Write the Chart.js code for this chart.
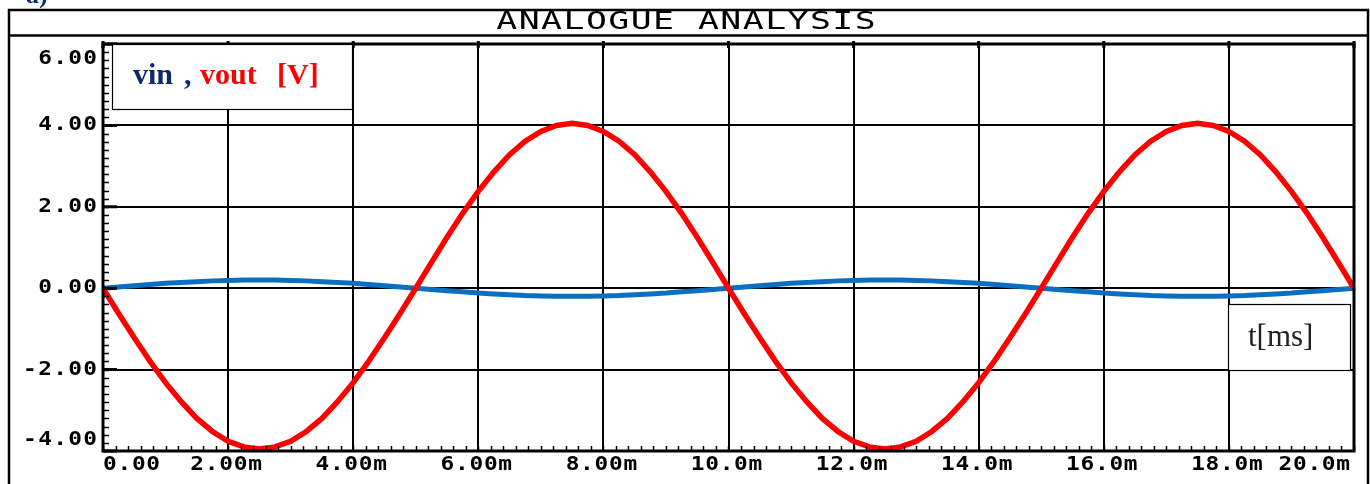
<!DOCTYPE html>
<html>
<head>
<meta charset="utf-8">
<script src="https://cdn.jsdelivr.net/npm/chart.js@4"></script>
<style>
  body { margin: 0; background: #fff; }
  #wrap { width: 1370px; height: 484px; }
</style>
</head>
<body>
<div id="wrap"><canvas id="chart" width="1370" height="484"></canvas></div>
<script>
// time axis in ms
const times = [
  0, 0.25, 0.5, 0.75, 1, 1.25, 1.5, 1.75, 2, 2.25, 2.5, 2.75, 3, 3.25, 3.5, 3.75, 4, 4.25, 4.5, 4.75,
  5, 5.25, 5.5, 5.75, 6, 6.25, 6.5, 6.75, 7, 7.25, 7.5, 7.75, 8, 8.25, 8.5, 8.75, 9, 9.25, 9.5, 9.75,
  10, 10.25, 10.5, 10.75, 11, 11.25, 11.5, 11.75, 12, 12.25, 12.5, 12.75, 13, 13.25, 13.5, 13.75, 14, 14.25, 14.5, 14.75,
  15, 15.25, 15.5, 15.75, 16, 16.25, 16.5, 16.75, 17, 17.25, 17.5, 17.75, 18, 18.25, 18.5, 18.75, 19, 19.25, 19.5, 19.75,
  20
];

// vout [V]
const vout = [
  0, -0.62, -1.22, -1.79, -2.32, -2.79, -3.20, -3.52, -3.76, -3.90, -3.95, -3.90, -3.76, -3.52, -3.20, -2.79, -2.32, -1.79, -1.22, -0.62,
  0, 0.63, 1.25, 1.84, 2.38, 2.86, 3.28, 3.61, 3.85, 4.00, 4.05, 4.00, 3.85, 3.61, 3.28, 2.86, 2.38, 1.84, 1.25, 0.63,
  0, -0.62, -1.22, -1.79, -2.32, -2.79, -3.20, -3.52, -3.76, -3.90, -3.95, -3.90, -3.76, -3.52, -3.20, -2.79, -2.32, -1.79, -1.22, -0.62,
  0, 0.63, 1.25, 1.84, 2.38, 2.86, 3.28, 3.61, 3.85, 4.00, 4.05, 4.00, 3.85, 3.61, 3.28, 2.86, 2.38, 1.84, 1.25, 0.63,
  0
];

// vin [V]
const vin = [
  0, 0.03, 0.06, 0.09, 0.12, 0.14, 0.16, 0.18, 0.19, 0.20, 0.20, 0.20, 0.19, 0.18, 0.16, 0.14, 0.12, 0.09, 0.06, 0.03,
  0, -0.03, -0.06, -0.09, -0.12, -0.14, -0.16, -0.18, -0.19, -0.20, -0.20, -0.20, -0.19, -0.18, -0.16, -0.14, -0.12, -0.09, -0.06, -0.03,
  0, 0.03, 0.06, 0.09, 0.12, 0.14, 0.16, 0.18, 0.19, 0.20, 0.20, 0.20, 0.19, 0.18, 0.16, 0.14, 0.12, 0.09, 0.06, 0.03,
  0, -0.03, -0.06, -0.09, -0.12, -0.14, -0.16, -0.18, -0.19, -0.20, -0.20, -0.20, -0.19, -0.18, -0.16, -0.14, -0.12, -0.09, -0.06, -0.03,
  0
];

const xTicks = [0, 2, 4, 6, 8, 10, 12, 14, 16, 18, 20];
const xTickLabels = ['0.00', '2.00m', '4.00m', '6.00m', '8.00m', '10.0m', '12.0m', '14.0m', '16.0m', '18.0m', '20.0m'];
const yTicks = [6, 4, 2, 0, -2, -4];
const yTickLabels = ['6.00', '4.00', '2.00', '0.00', '-2.00', '-4.00'];

const NAVY = '#0b2a6b';
const MONO = '"DejaVu Sans Mono"';

// stretched mono text, like the plotter font
function wideText(ctx, str, x, y, font, sx, gap, align) {
    ctx.save();
    ctx.font = font;
    ctx.letterSpacing = '0px';
    let base = ctx.measureText(str).width;
    let w = (base + gap * (str.length - 1)) * sx;
    let x0 = x;
    if (align == 'center') x0 = x - w / 2;
    if (align == 'right') x0 = x - w;
    ctx.letterSpacing = gap + 'px';
    ctx.textBaseline = 'middle';
    ctx.textAlign = 'left';
    ctx.translate(x0, y);
    ctx.scale(sx, 1);
    ctx.fillText(str, 0, 0);
    ctx.restore();
}

const LABEL_FONT = 'bold 19px ' + MONO;

const plotter = {
    id: 'plotter',
    beforeDraw(chart) {
        let ctx = chart.ctx;
        ctx.save();
        ctx.fillStyle = '#fff';
        ctx.fillRect(0, 0, chart.width, chart.height);

        // "a)" cut off at the top
        ctx.fillStyle = NAVY;
        ctx.font = 'bold 26px "Liberation Serif"';
        ctx.textBaseline = 'alphabetic';
        ctx.fillText('a)', 26, 3);

        // outer frame + title bar
        ctx.strokeStyle = '#000';
        ctx.lineWidth = 2.5;
        ctx.beginPath();
        ctx.moveTo(9, 490);
        ctx.lineTo(9, 10);
        ctx.lineTo(1368, 10);
        ctx.lineTo(1368, 490);
        ctx.moveTo(9, 35.5);
        ctx.lineTo(1368, 35.5);
        ctx.stroke();

        ctx.fillStyle = '#000';
        wideText(ctx, 'ANALOGUE ANALYSIS', 686, 23, '24px ' + MONO, 1.45, 1.0, 'center');
        ctx.restore();
    },
    afterDraw(chart) {
        let ctx = chart.ctx;
        let a = chart.chartArea;
        let xs = chart.scales.x;
        let ys = chart.scales.y;
        ctx.save();

        // plot border
        ctx.strokeStyle = '#000';
        ctx.lineWidth = 3;
        ctx.strokeRect(a.left, a.top, a.right - a.left, a.bottom - a.top);

        // minor ticks
        ctx.lineWidth = 1.5;
        ctx.beginPath();
        for (let v = -4; v <= 6.001; v += 0.2) {
            let y = Math.round(ys.getPixelForValue(v)) + 0.5;
            ctx.moveTo(a.left, y);
            ctx.lineTo(a.left + 6, y);
        }
        for (let t = 0; t <= 20.001; t += 0.2) {
            let x = Math.round(xs.getPixelForValue(t)) + 0.5;
            ctx.moveTo(x, a.bottom);
            ctx.lineTo(x, a.bottom - 5);
        }
        ctx.stroke();

        // major ticks
        ctx.lineWidth = 3;
        ctx.beginPath();
        yTicks.forEach(v => {
            let y = ys.getPixelForValue(v);
            ctx.moveTo(a.left, y);
            ctx.lineTo(a.left + 14, y);
        });
        xTicks.forEach(t => {
            let x = xs.getPixelForValue(t);
            ctx.moveTo(x, a.top - 3);
            ctx.lineTo(x, a.top + 4);
        });
        ctx.stroke();

        // tick labels
        ctx.fillStyle = '#000';
        yTicks.forEach((v, i) => {
            let y = ys.getPixelForValue(v);
            y = Math.min(Math.max(y, a.top + 15), a.bottom - 11);
            wideText(ctx, yTickLabels[i], a.left - 6, y, LABEL_FONT, 1.2, 1.1, 'right');
        });
        xTicks.forEach((t, i) => {
            let x = xs.getPixelForValue(t);
            let align = 'center';
            if (i == 0) { align = 'left'; x = a.left; }
            if (i == xTicks.length - 1) { align = 'right'; x = a.right - 4; }
            wideText(ctx, xTickLabels[i], x - (align == 'center' ? 2 : 0), a.bottom + 14, LABEL_FONT, 1.2, 0.6, align);
        });

        // legend box
        ctx.fillStyle = '#fff';
        ctx.fillRect(112, 44, 240, 65);
        ctx.lineWidth = 1.2;
        ctx.strokeRect(112.5, 44.5, 240, 65);
        ctx.font = 'bold 30px "Liberation Serif"';
        ctx.textBaseline = 'alphabetic';
        ctx.textAlign = 'left';
        ctx.fillStyle = NAVY;
        ctx.fillText('vin', 133, 84);
        ctx.fillText(',', 184, 84);
        ctx.fillStyle = '#ff0000';
        ctx.fillText('vout', 200, 84);
        ctx.fillText('[V]', 277, 84);

        // axis name box
        ctx.fillStyle = '#fff';
        ctx.fillRect(1228, 304, 122, 66);
        ctx.strokeStyle = '#000';
        ctx.strokeRect(1228.5, 304.5, 122, 66);
        ctx.fillStyle = '#222';
        ctx.font = '31px "Liberation Serif"';
        ctx.fillText('t[ms]', 1248, 346);

        ctx.restore();
    }
};

new Chart(document.getElementById('chart'), {
    type: 'line',
    data: {
        datasets: [{
            label: 'vout',
            data: times.map((t, i) => ({x: t, y: vout[i]})),
            borderColor: '#ff0000',
            borderWidth: 5.5,
            pointRadius: 0,
            tension: 0
        }, {
            label: 'vin',
            data: times.map((t, i) => ({x: t, y: vin[i]})),
            borderColor: '#0a6fc0',
            borderWidth: 5,
            pointRadius: 0,
            tension: 0
        }]
    },
    options: {
        responsive: false,
        animation: false,
        events: [],
        layout: { padding: { left: 103, top: 44, right: 16, bottom: 33 } },
        plugins: { legend: { display: false }, tooltip: { enabled: false } },
        scales: {
            x: {
                type: 'linear',
                min: 0,
                max: 20,
                afterFit: s => { s.height = 0; },
                afterBuildTicks: s => { s.ticks = xTicks.map(v => ({value: v})); },
                ticks: { display: false },
                grid: { color: '#000', lineWidth: 2, drawTicks: false },
                border: { display: false }
            },
            y: {
                min: -4,
                max: 6,
                afterFit: s => { s.width = 0; },
                afterBuildTicks: s => { s.ticks = yTicks.map(v => ({value: v})); },
                ticks: { display: false },
                grid: { color: '#000', lineWidth: 2, drawTicks: false },
                border: { display: false }
            }
        }
    },
    plugins: [plotter]
});
</script>
</body>
</html>
